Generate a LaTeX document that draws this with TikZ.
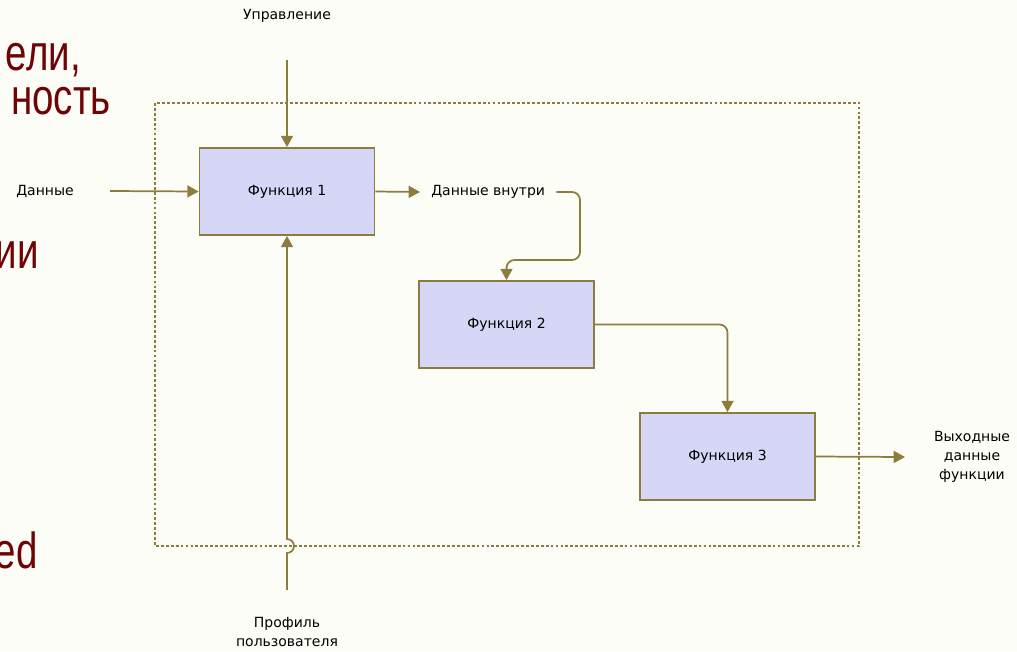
\documentclass[tikz,border=0pt]{standalone}
\usepackage{fontspec}
\setmainfont{DejaVu Sans}
\newfontfamily\slidefont{Liberation Sans}
\usetikzlibrary{arrows.meta}

\definecolor{idefline}{RGB}{140,124,62}
\definecolor{idefbox}{RGB}{214,214,246}
\definecolor{slidebg}{RGB}{253,253,248}
\definecolor{slidered}{RGB}{110,4,4}

\tikzset{
	func/.style={draw=idefline, fill=idefbox, line width=1.3pt, minimum width=131.25pt, minimum height=65.25pt, font=\fontsize{10.5}{12}\selectfont},
	lbl/.style={font=\fontsize{10.5}{14}\selectfont, align=center},
	flow/.style={draw=idefline, line width=1.3pt, arrows={-Triangle[length=8.5pt,width=9pt]}},
	frame/.style={draw=idefline, line width=2.1pt, dash pattern=on 2.1pt off 1.6pt},
	bigtxt/.style={font=\slidefont\fontsize{38}{38}\selectfont, text=slidered, anchor=base east, inner sep=0pt, xscale=0.76}
}

\begin{document}
\begin{tikzpicture}[x=0.75pt, y=-0.75pt]
	\useasboundingbox (0,0) rectangle (1017,651);
	\fill[slidebg] (0,0) rectangle (1017,651);
	% slide text behind the picture
	\node[bigtxt] (t1) at (81,70) {ели,};
	\node[bigtxt] (t2) at (111,114) {ность};
	\node[bigtxt] (t3) at (39,268) {ии};
	\node[bigtxt] (t4) at (38,568) {ed};

	\draw[frame] (155,103) rectangle (859,546);

	\node[func] (f1) at (287,191.5) {Функция 1};
	\node[func] (f2) at (506.5,324.5) {Функция 2};
	\node[func] (f3) at (727.5,456.5) {Функция 3};

	\node[lbl] (ctrl) at (287,16) {Управление};
	\coordinate (ctrlin) at (287,60);
	\draw[flow] (ctrlin) -- (f1.north);

	\node[lbl] (data) at (45,191) {Данные};
	\coordinate (datain) at (110,191);
	\draw[flow] (datain) -- (f1.west);

	\node[lbl, anchor=west, inner xsep=8.25pt] (inside) at (420,192) {Данные внутри};
	\draw[flow] (f1.east) -- (inside.west);
	\draw[flow, rounded corners=6pt] (inside.east) -| (580,260) -| (f2.north);
	\draw[flow, rounded corners=6pt] (f2.east) -| (f3.north);

	\node[lbl] (outlbl) at (972,457) {Выходные\\данные\\функции};
	\coordinate (out) at (905,457);
	\draw[flow] (f3.east) -- (out);

	\node[lbl] (prof) at (287,632) {Профиль\\пользователя};
	\coordinate (profin) at (287,590);
	\coordinate (hop) at (287,553);
	\draw[flow] (profin) -- (hop) arc[start angle=90, end angle=-90, radius=7] -- (f1.south);
\end{tikzpicture}
\end{document}
